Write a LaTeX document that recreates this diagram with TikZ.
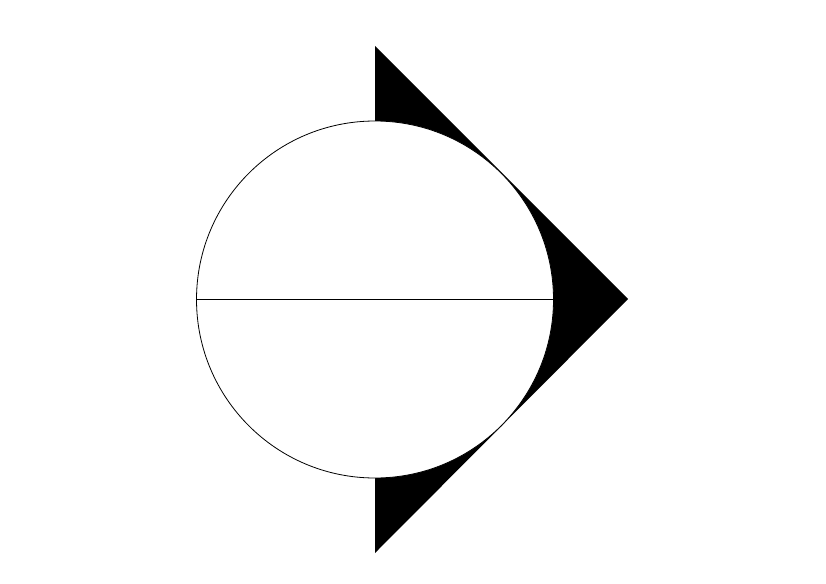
\documentclass[tikz,border=0pt]{standalone}
\begin{document}
\begin{tikzpicture}[x=1pt,y=-1pt,line width=0.8pt]
\useasboundingbox (0,0) rectangle (826,583);
\fill[black] (375,46) -- (628,299) -- (375,553) -- cycle;
\draw[fill=white] (375,299.5) circle (178.5);
\coordinate (l) at (196.5,299.5);
\coordinate (r) at (553.5,299.5);
\draw (l) -- (r);
\end{tikzpicture}
\end{document}
